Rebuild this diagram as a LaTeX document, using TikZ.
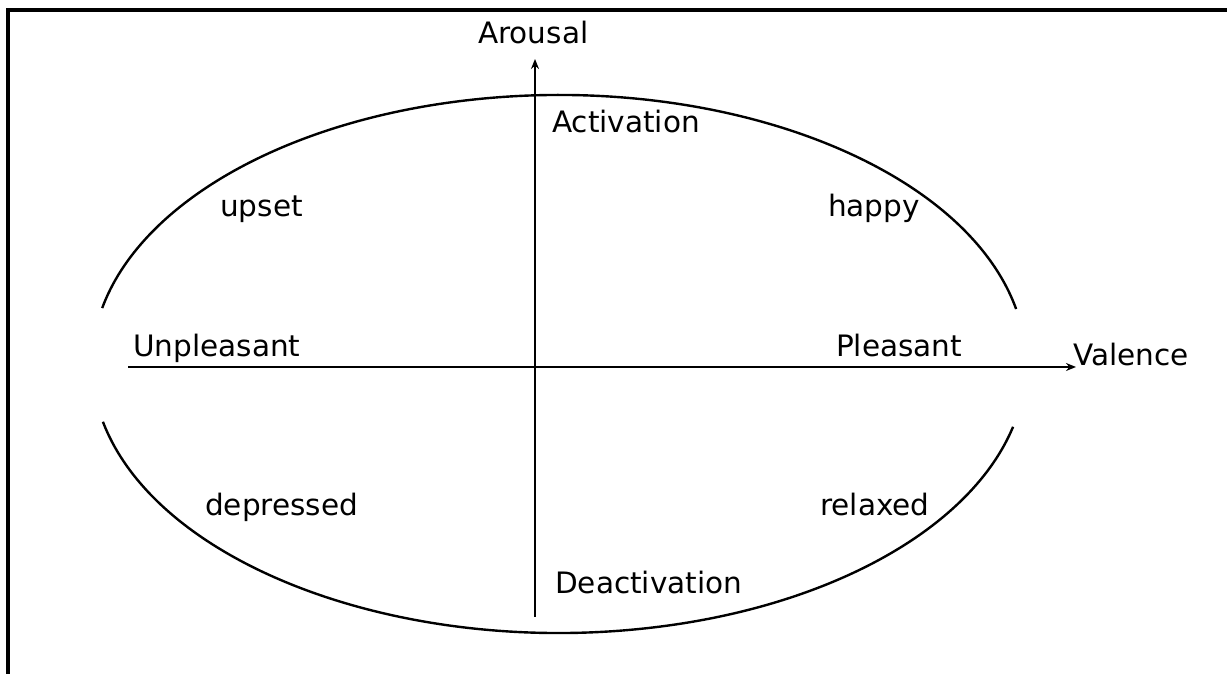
\documentclass[tikz,border=0pt]{standalone}
\usepackage{fontspec}
\setmainfont{DejaVu Sans}
\usetikzlibrary{arrows.meta}
\begin{document}
\begin{tikzpicture}[x=1pt,y=1pt,
  lbl/.style={anchor=base west,inner sep=0pt,font=\fontsize{29.5}{34}\selectfont},
  axis/.style={line width=2.4pt,-{Stealth[length=10pt,width=8pt]}},
  ring/.style={line width=2.4pt}]
\useasboundingbox (0,0) rectangle (1227,674);
% frame on top and left
\draw[line width=3.2pt] (1227,664) -- (8,664) -- (8,0);
% circumplex outline, four arcs
\def\cx{559}\def\cy{310}\def\ra{467}\def\rb{269}
\draw[ring] (\cx,\cy) ++(11.8:{\ra} and {\rb}) arc[start angle=11.8,end angle=168,x radius=\ra,y radius=\rb];
\draw[ring] (\cx,\cy) ++(192.4:{\ra} and {\rb}) arc[start angle=192.4,end angle=346.5,x radius=\ra,y radius=\rb];
% axes
\coordinate (vb) at (535,57);
\coordinate (vt) at (535,615);
\coordinate (hl) at (128,307);
\coordinate (hr) at (1076,307);
\draw[axis] (vb) -- (vt);
\draw[axis] (hl) -- (hr);
% labels
\node[lbl] (arousal) at (478,630) {Arousal};
\node[lbl] (act) at (552,541) {Activation};
\node[lbl] (upset) at (220,457) {upset};
\node[lbl] (happy) at (828,457) {happy};
\node[lbl] (unpl) at (133,317) {Unpleasant};
\node[lbl] (pl) at (836,317) {Pleasant};
\node[lbl] (val) at (1073,308) {Valence};
\node[lbl] (dep) at (205,158) {depressed};
\node[lbl] (rel) at (820,158) {relaxed};
\node[lbl] (deact) at (555,80) {Deactivation};
\end{tikzpicture}
\end{document}
